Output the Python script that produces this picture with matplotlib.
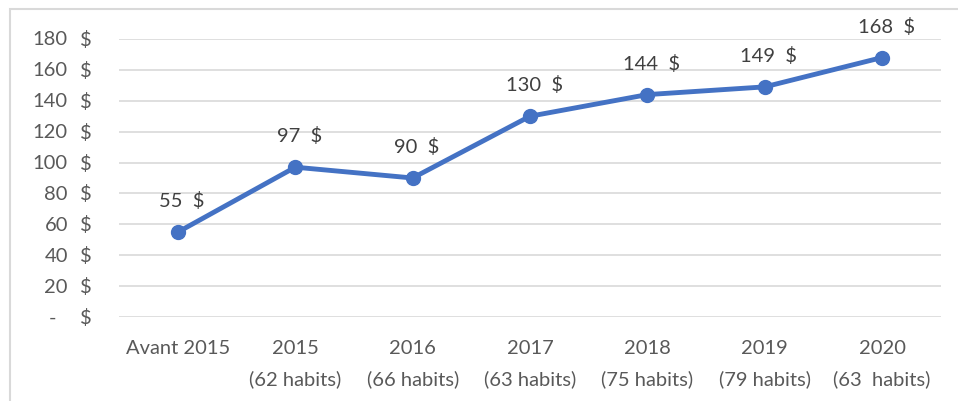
import matplotlib.pyplot as plt
from matplotlib.patches import Rectangle

categories = ["Avant 2015", "2015\n(62 habits)", "2016\n(66 habits)", "2017\n(63 habits)",
              "2018\n(75 habits)", "2019\n(79 habits)", "2020\n(63  habits)"]
values = [55, 97, 90, 130, 144, 149, 168]
y_ticks = [0, 20, 40, 60, 80, 100, 120, 140, 160, 180]

plt.rcParams["font.family"] = ["Lato", "DejaVu Sans"]
text_color = "#595959"
line_color = "#4472C4"
fs = 14.5

fig = plt.figure(figsize=(9.58, 4.02), dpi=100)
# light chart border, partially cropped like the source
fig.patches.append(Rectangle((10 / 958, -0.2), 1.2, 0.2 + 392 / 402,
                             transform=fig.transFigure, fill=False,
                             edgecolor="#D9D9D9", linewidth=1.5))

ax = fig.add_axes([119.3 / 958, 84 / 402, 821.4 / 958, 278 / 402])
x = list(range(len(categories)))
ax.plot(x, values, color=line_color, linewidth=3.5, marker="o", markersize=10,
        solid_capstyle="round", zorder=3, clip_on=False)

for xi, v in zip(x, values):
    ax.annotate(f"{v}  $", xy=(xi, v), xytext=(3, 23), textcoords="offset points",
                ha="center", va="center", fontsize=fs, color="#404040")

ax.set_xlim(-0.5, len(categories) - 0.5)
ax.set_ylim(0, 180)
ax.set_yticks(y_ticks)
ax.set_yticklabels([])
ax.tick_params(axis="y", length=0)
ax.grid(True, axis="y", color="#D9D9D9", linewidth=1.2)
ax.set_axisbelow(True)
for s in ax.spines.values():
    s.set_visible(False)

ax.set_xticks(x)
ax.set_xticklabels(categories, fontsize=fs, color=text_color, linespacing=1.85, va="top")
ax.tick_params(axis="x", length=0, pad=16)

ytrans = ax.get_yaxis_transform()
for t in y_ticks:
    num = "-" if t == 0 else str(t)
    dx = -48 if t == 0 else -37
    ax.annotate(num, xy=(0, t), xytext=(dx, 0), textcoords="offset points",
                xycoords=ytrans, ha="right" if t else "center", va="center",
                fontsize=fs, color=text_color)
    ax.annotate("$", xy=(0, t), xytext=(-24, 0), textcoords="offset points",
                xycoords=ytrans, ha="center", va="center",
                fontsize=fs, color=text_color)

fig.savefig("out.png", dpi=100)
